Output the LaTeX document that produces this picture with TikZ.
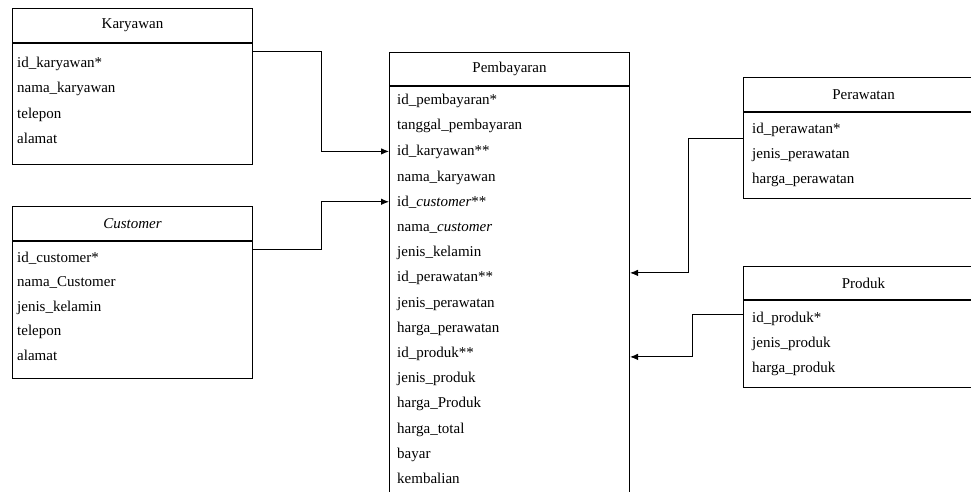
\documentclass[tikz,border=0pt]{standalone}
\usepackage{fontspec}
\setmainfont{Liberation Serif}
\usetikzlibrary{arrows.meta,positioning,calc}

\begin{document}
\begin{tikzpicture}[
  x=1pt,y=-1pt,
  head/.style={draw,anchor=north west,minimum width=240pt,minimum height=34pt,inner sep=0pt,line width=1pt,font=\fontsize{15pt}{18pt}\selectfont},
  body/.style={draw,anchor=north west,minimum width=240pt,inner sep=0pt,line width=1pt},
  field/.style={anchor=base west,inner sep=0pt,font=\fontsize{15pt}{18pt}\selectfont},
  link/.style={line width=0.9pt,-{Latex[length=8pt,width=6.5pt]}} % small filled tips
]
\useasboundingbox (0,0) rectangle (971,492);
\clip (0,0) rectangle (971,492);

% ---------------- Karyawan ----------------
\node[head] (karH) at (12,8) {Karyawan};
\node[body,minimum height=121pt] (kar) at (karH.south west) {};
\node[field] (k1) at (17,68) {id\_karyawan*};
\node[field] (k2) at (17,93) {nama\_karyawan};
\node[field] (k3) at (17,118) {telepon};
\node[field] (k4) at (17,143) {alamat};

% ---------------- Customer ----------------
\node[head] (cusH) at (12,206) {\itshape Customer};
\node[body,minimum height=137pt] (cus) at (cusH.south west) {};
\node[field] (c1) at (17,262) {id\_customer*};
\node[field] (c2) at (17,286.5) {nama\_Customer};
\node[field] (c3) at (17,311) {jenis\_kelamin};
\node[field] (c4) at (17,335.5) {telepon};
\node[field] (c5) at (17,360) {alamat};

% ---------------- Pembayaran ----------------
\node[head,minimum height=33pt] (pemH) at (389,52) {Pembayaran};
\node[body,minimum height=460pt] (pem) at (pemH.south west) {};
\node[field] (p1) at (397,105) {id\_pembayaran*};
\node[field] (p2) at (397,130) {tanggal\_pembayaran};
\node[field] (p3) at (397,155) {id\_karyawan**};
\node[field] (p4) at (397,181) {nama\_karyawan};
\node[field] (p5) at (397,206) {id\_\textit{customer}**};
\node[field] (p6) at (397,231) {nama\_\textit{customer}};
\node[field] (p7) at (397,256) {jenis\_kelamin};
\node[field] (p8) at (397,281) {id\_perawatan**};
\node[field] (p9) at (397,307) {jenis\_perawatan};
\node[field] (p10) at (397,332) {harga\_perawatan};
\node[field] (p11) at (397,357) {id\_produk**};
\node[field] (p12) at (397,382) {jenis\_produk};
\node[field] (p13) at (397,407) {harga\_Produk};
\node[field] (p14) at (397,433) {harga\_total};
\node[field] (p15) at (397,458) {bayar};
\node[field] (p16) at (397,483) {kembalian};

% ---------------- Perawatan ----------------
\node[head] (perH) at (743,77) {Perawatan};
\node[body,minimum height=86pt] (per) at (perH.south west) {};
\node[field] (r1) at (752,133) {id\_perawatan*};
\node[field] (r2) at (752,158) {jenis\_perawatan};
\node[field] (r3) at (752,183) {harga\_perawatan};

% ---------------- Produk ----------------
\node[head,minimum height=33pt] (proH) at (743,266) {Produk};
\node[body,minimum height=87pt] (pro) at (proH.south west) {};
\node[field] (d1) at (752,322) {id\_produk*};
\node[field] (d2) at (752,347) {jenis\_produk};
\node[field] (d3) at (752,372) {harga\_produk};

% ---------------- relations ----------------
\coordinate (karOut) at ([yshift=-8pt]kar.north east);
\coordinate (cusOut) at ([yshift=-8pt]cus.north east);
\coordinate (perOut) at ([yshift=-26pt]per.north west);
\coordinate (proOut) at ([yshift=-14pt]pro.north west);

\draw[link] (karOut) -- ++(68,0) |- (pem.west |- p3);
\draw[link] (cusOut) -- ++(68,0) |- (pem.west |- p5);
\draw[link] (perOut) -- ++(-55,0) |- ([yshift=4.5pt]pem.east |- p8);
\draw[link] (proOut) -- ++(-51,0) |- ([yshift=-3.5pt]pem.east |- p11);

\end{tikzpicture}
\end{document}
